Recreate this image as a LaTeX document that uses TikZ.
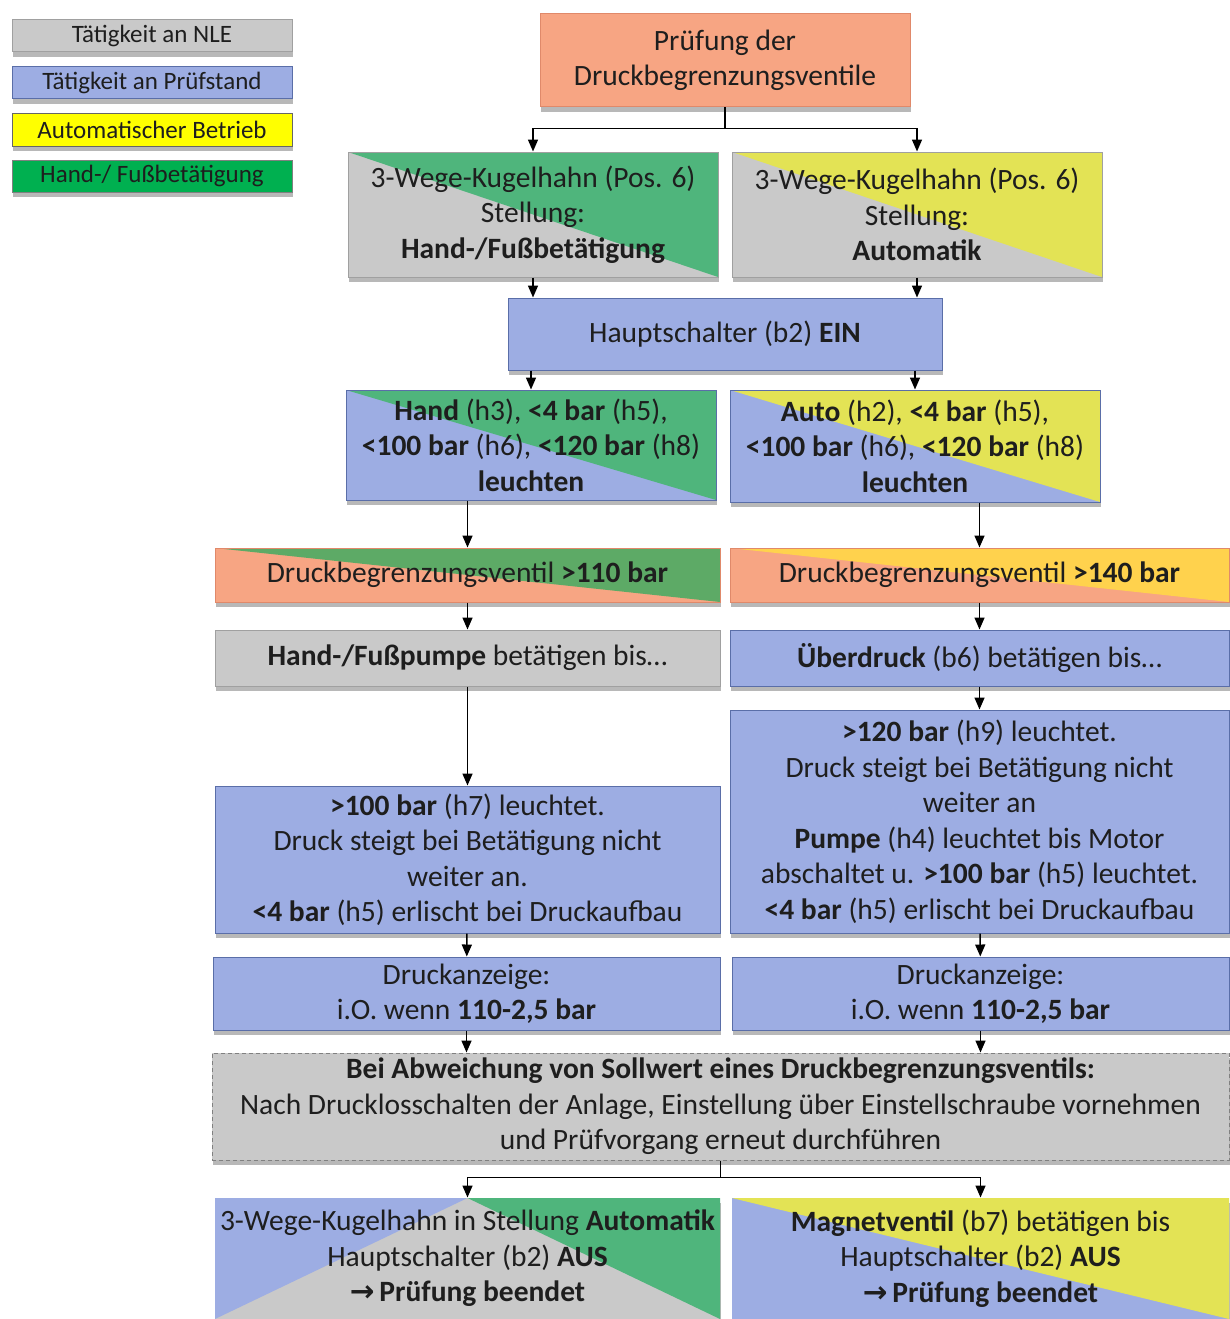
\documentclass[tikz,border=0pt]{standalone}
\usepackage{fontspec}
\setmainfont{Carlito}
\newfontfamily\arrowfont{DejaVu Sans}
\usetikzlibrary{shadows,arrows.meta}
\definecolor{grayC}{HTML}{C9C9C9}
\definecolor{grayD}{HTML}{A0A0A0}
\definecolor{blueC}{HTML}{9DADE3}
\definecolor{blueD}{HTML}{5A6EA8}
\definecolor{greenC}{HTML}{4FB57C}
\definecolor{greenL}{HTML}{00B050}
\definecolor{greenD}{HTML}{5DAA66}
\definecolor{yellowC}{HTML}{E3E355}
\definecolor{yellowL}{HTML}{FFFF00}
\definecolor{salmonC}{HTML}{F7A583}
\definecolor{salmonD}{HTML}{E0896A}
\definecolor{goldC}{HTML}{FFD24D}
\definecolor{txt}{HTML}{1E1E1E}
\tikzset{
  base/.style={inner sep=1pt, align=center, font=\fontsize{29.5}{35.5}\selectfont, text=txt,
    line width=1pt, drop shadow={shadow xshift=1pt, shadow yshift=-5pt, fill=black, opacity=0.28}},
  grayB/.style={base, fill=grayC, draw=grayD},
  blueB/.style={base, fill=blueC, draw=blueD},
  salmonB/.style={base, fill=salmonC, draw=salmonD},
  legend/.style={font=\fontsize{25}{28}\selectfont},
  triNE/.style={path picture={\fill[#1] (path picture bounding box.north west) -- (path picture bounding box.north east) -- (path picture bounding box.south east) -- cycle;}},
  triTwo/.style 2 args={path picture={
    \fill[#1] (path picture bounding box.north west) -- (path picture bounding box.north) -- (path picture bounding box.south west) -- cycle;
    \fill[#2] (path picture bounding box.north) -- (path picture bounding box.north east) -- (path picture bounding box.south east) -- cycle;}},
  arr/.style={-{Triangle[length=12pt,width=10pt]}, line width=1.5pt, draw=black}
}
\newcommand\bx[7]{\node[#6, minimum width={(#4-#2)*1pt}, minimum height={(#5-#3)*1pt}] (#1) at ({(#2+#4)/2},{(#3+#5)/2}) {#7};}
\begin{document}
\begin{tikzpicture}[x=1pt,y=-1pt]
\useasboundingbox (0,0) rectangle (1229,1319);
% legend
\bx{lg1}{12}{20}{292}{52}{grayB,legend}{Tätigkeit an NLE}
\bx{lg2}{12}{67}{292}{99}{blueB,legend}{Tätigkeit an Prüfstand}
\bx{lg3}{12}{114}{292}{146}{base,fill=yellowL,draw=black!60,legend}{Automatischer Betrieb}
\bx{lg4}{12}{160}{292}{192}{base,fill=greenL,draw=black!50,legend}{Hand-/ Fußbetätigung}
% top
\bx{T}{540}{14}{910}{107}{salmonB}{Prüfung der\\Druckbegrenzungsventile}
\bx{L1}{348}{152}{718}{277}{grayB,triNE=greenC}{3-Wege-Kugelhahn (Pos. 6)\\Stellung:\\\textbf{Hand-/Fußbetätigung}}
\bx{R1}{732}{152}{1102}{277}{grayB,triNE=yellowC}{3-Wege-Kugelhahn (Pos. 6)\\Stellung:\\\textbf{Automatik}}
\bx{H}{508}{298}{942}{370}{blueB}{Hauptschalter (b2) \textbf{EIN}}
\bx{L2}{346}{390}{716}{500}{blueB,triNE=greenC}{\textbf{Hand} (h3), \textbf{<4 bar} (h5),\\\textbf{<100 bar} (h6), \textbf{<120 bar} (h8)\\\textbf{leuchten}}
\bx{R2}{730}{390}{1100}{502}{blueB,triNE=yellowC}{\textbf{Auto} (h2), \textbf{<4 bar} (h5),\\\textbf{<100 bar} (h6), \textbf{<120 bar} (h8)\\\textbf{leuchten}}
\bx{L3}{215}{548}{720}{602}{salmonB,triNE=greenD}{Druckbegrenzungsventil \textbf{>110 bar}}
\bx{R3}{730}{548}{1229}{602}{salmonB,triNE=goldC}{Druckbegrenzungsventil \textbf{>140 bar}}
\bx{L4}{215}{630}{720}{686}{grayB}{\textbf{Hand-/Fußpumpe} betätigen bis…}
\bx{R4}{730}{630}{1229}{686}{blueB}{\textbf{Überdruck} (b6) betätigen bis…}
\bx{L5}{215}{786}{720}{933}{blueB}{\textbf{>100 bar} (h7) leuchtet.\\Druck steigt bei Betätigung nicht\\weiter an.\\\textbf{<4 bar} (h5) erlischt bei Druckaufbau}
\bx{R5}{730}{710}{1229}{933}{blueB}{\textbf{>120 bar} (h9) leuchtet.\\Druck steigt bei Betätigung nicht\\weiter an\\\textbf{Pumpe} (h4) leuchtet bis Motor\\abschaltet u. \textbf{>100 bar} (h5) leuchtet.\\\textbf{<4 bar} (h5) erlischt bei Druckaufbau}
\bx{L6}{213}{957}{720}{1030}{blueB}{Druckanzeige:\\i.O. wenn \textbf{110-2,5 bar}}
\bx{R6}{732}{957}{1229}{1030}{blueB}{Druckanzeige:\\i.O. wenn \textbf{110-2,5 bar}}
\bx{B7}{212}{1053}{1229}{1160}{grayB,draw=black!50,dash pattern=on 4pt off 3pt}{\textbf{Bei Abweichung von Sollwert eines Druckbegrenzungsventils:}\\Nach Drucklosschalten der Anlage, Einstellung über Einstellschraube vornehmen\\und Prüfvorgang erneut durchführen}
\bx{L8}{215}{1198}{720}{1319}{grayB,draw=none,triTwo={blueC}{greenC}}{3-Wege-Kugelhahn in Stellung \textbf{Automatik}\\Hauptschalter (b2) \textbf{AUS}\\{\arrowfont\bfseries →}\,\textbf{Prüfung beendet}}
\bx{R8}{732}{1198}{1229}{1319}{blueB,draw=none,triNE=yellowC}{\textbf{Magnetventil} (b7) betätigen bis\\Hauptschalter (b2) \textbf{AUS}\\{\arrowfont\bfseries →}\,\textbf{Prüfung beendet}}
% connectors
\draw[arr] (T.south) -- ++(0,21) -| (L1.north);
\draw[arr] (T.south) -- ++(0,21) -| (R1.north);
\draw[arr] (L1.south) -- (L1.south |- H.north);
\draw[arr] (R1.south) -- (R1.south |- H.north);
\draw[arr] (L2.north |- H.south) -- (L2.north);
\draw[arr] (R2.north |- H.south) -- (R2.north);
\draw[arr] (L3.north |- L2.south) -- (L3.north);
\draw[arr] (R3.north |- R2.south) -- (R3.north);
\draw[arr] (L3) -- (L4);
\draw[arr] (R3) -- (R4);
\draw[arr] (L4) -- (L5);
\draw[arr] (R4) -- (R5);
\draw[arr] (L5) -- (L6);
\draw[arr] (R5) -- (R6);
\draw[arr] (L6.south) -- (L6.south |- B7.north);
\draw[arr] (R6.south) -- (R6.south |- B7.north);
\draw[arr] (B7.south) -- ++(0,17) -| (L8.north);
\draw[arr] (B7.south) -- ++(0,17) -| (R8.north);
\end{tikzpicture}
\end{document}
